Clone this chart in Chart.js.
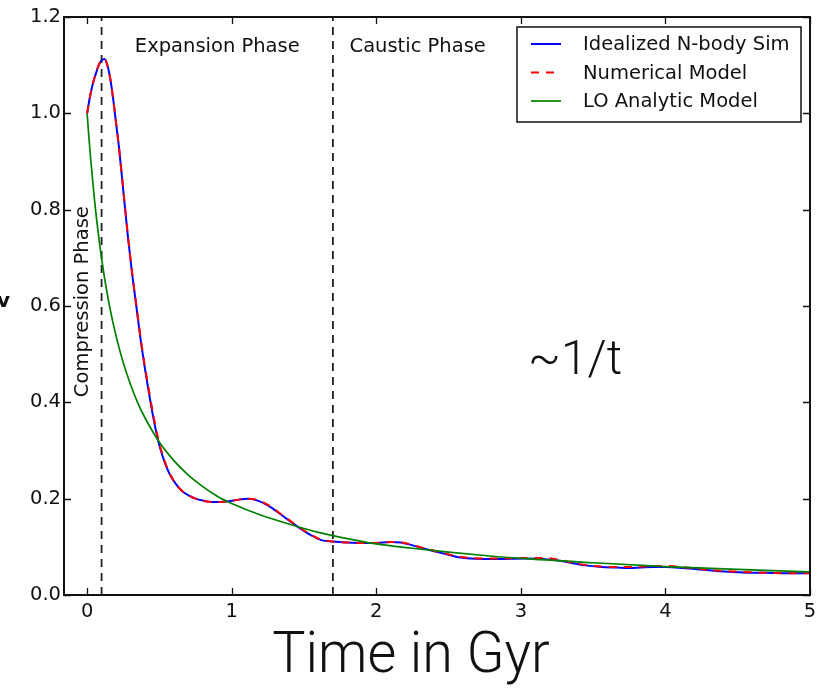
<!DOCTYPE html>
<html>
<head>
<meta charset="utf-8">
<script src="https://cdn.jsdelivr.net/npm/chart.js@4.4.1/dist/chart.umd.min.js"></script>
<style>
  html, body { margin: 0; padding: 0; background: #fff; }
  #wrap { width: 834px; height: 695px; }
</style>
</head>
<body>
<div id="wrap"><canvas id="density-chart" width="834" height="695"></canvas></div>
<script>
// ── DATA ─────────────────────────────────────────────────────
const simTimes = [0, 0.02, 0.04, 0.06, 0.08, 0.10, 0.12, 0.14, 0.16, 0.18, 0.20, 0.22, 0.25, 0.28, 0.31, 0.34, 0.37, 0.40, 0.43, 0.46, 0.49, 0.52, 0.55, 0.58, 0.62, 0.66, 0.70, 0.75, 0.80, 0.86, 0.92, 0.99, 1.05, 1.11, 1.17, 1.25, 1.35, 1.455, 1.55, 1.62, 1.70, 1.80, 1.90, 2.00, 2.10, 2.17, 2.24, 2.32, 2.40, 2.48, 2.56, 2.65, 2.74, 2.85, 3.02, 3.15, 3.27, 3.36, 3.46, 3.56, 3.66, 3.75, 3.83, 3.92, 4.01, 4.12, 4.24, 4.35, 4.47, 4.60, 4.70, 4.85, 5.00];
const simValues = [1.0, 1.035, 1.062, 1.082, 1.100, 1.110, 1.113, 1.100, 1.072, 1.030, 0.980, 0.930, 0.840, 0.750, 0.670, 0.600, 0.530, 0.470, 0.415, 0.365, 0.322, 0.290, 0.265, 0.246, 0.228, 0.215, 0.207, 0.200, 0.196, 0.193, 0.193, 0.195, 0.198, 0.200, 0.197, 0.186, 0.165, 0.142, 0.124, 0.114, 0.111, 0.109, 0.108, 0.108, 0.110, 0.109, 0.104, 0.097, 0.091, 0.085, 0.079, 0.076, 0.075, 0.075, 0.076, 0.075, 0.071, 0.066, 0.061, 0.058, 0.057, 0.056, 0.057, 0.058, 0.058, 0.056, 0.053, 0.050, 0.048, 0.046, 0.046, 0.045, 0.045];
const modelValues = [1.0, 1.035, 1.062, 1.082, 1.100, 1.110, 1.113, 1.100, 1.072, 1.030, 0.980, 0.930, 0.842, 0.752, 0.672, 0.603, 0.534, 0.474, 0.420, 0.370, 0.326, 0.293, 0.267, 0.247, 0.228, 0.215, 0.207, 0.200, 0.196, 0.193, 0.193, 0.195, 0.198, 0.200, 0.198, 0.187, 0.166, 0.143, 0.125, 0.115, 0.111, 0.109, 0.108, 0.108, 0.110, 0.109, 0.105, 0.098, 0.092, 0.086, 0.080, 0.077, 0.076, 0.076, 0.077, 0.077, 0.073, 0.067, 0.062, 0.059, 0.058, 0.058, 0.059, 0.060, 0.060, 0.058, 0.054, 0.051, 0.049, 0.047, 0.046, 0.045, 0.045];

const analyticTimes = [0, 0.01, 0.025, 0.05, 0.075, 0.10, 0.13, 0.16, 0.20, 0.25, 0.30, 0.35, 0.40, 0.50, 0.60, 0.70, 0.80, 0.90, 1.00, 1.20, 1.40, 1.60, 1.80, 2.00, 2.25, 2.50, 2.75, 3.00, 3.50, 4.00, 4.50, 5.00];
const analyticValues = [1.0, 0.959, 0.903, 0.823, 0.756, 0.699, 0.641, 0.592, 0.538, 0.482, 0.437, 0.399, 0.368, 0.317, 0.279, 0.249, 0.225, 0.205, 0.190, 0.166, 0.147, 0.130, 0.117, 0.106, 0.097, 0.089, 0.082, 0.076, 0.067, 0.059, 0.053, 0.048];

const phaseBounds = [0.1, 1.7];
const xTicks = [0, 1, 2, 3, 4, 5];
const yTicks = [0, 0.2, 0.4, 0.6, 0.8, 1.0, 1.2];

const seriesNames = ['Idealized N-body Sim', 'Numerical Model', 'LO Analytic Model'];

const toPoints = (xs, ys) => xs.map((x, i) => ({ x, y: ys[i] }));

const TICK_FONT = 'DejaVu Sans';

// ── ANNOTATIONS, FRAME, LEGEND ───────────────────────────────
const decorPlugin = {
  id: 'decor',
  afterDatasetsDraw(chart) {
    const { ctx, chartArea: a, scales: { x, y } } = chart;
    ctx.save();

    // frame and inward ticks on all four sides
    ctx.strokeStyle = '#111';
    ctx.lineWidth = 1.3;
    ctx.beginPath();
    xTicks.forEach(v => {
      const px = Math.round(x.getPixelForValue(v)) + 0.5;
      ctx.moveTo(px, a.bottom); ctx.lineTo(px, a.bottom - 7);
      ctx.moveTo(px, a.top);    ctx.lineTo(px, a.top + 7);
    });
    yTicks.forEach(v => {
      const py = Math.round(y.getPixelForValue(v)) + 0.5;
      ctx.moveTo(a.left, py);  ctx.lineTo(a.left + 7, py);
      ctx.moveTo(a.right, py); ctx.lineTo(a.right - 7, py);
    });
    ctx.stroke();
    ctx.lineWidth = 2;
    ctx.strokeRect(a.left, a.top, a.right - a.left, a.bottom - a.top);

    // phase labels
    ctx.fillStyle = '#111';
    ctx.font = `19.5px ${TICK_FONT}`;
    ctx.textBaseline = 'middle';
    ctx.textAlign = 'left';
    ctx.fillText('Expansion Phase', x.getPixelForValue(0.33), y.getPixelForValue(1.138));
    ctx.fillText('Caustic Phase', x.getPixelForValue(1.815), y.getPixelForValue(1.138));

    ctx.save();
    ctx.translate(x.getPixelForValue(-0.028), y.getPixelForValue(0.609));
    ctx.rotate(-Math.PI / 2);
    ctx.textAlign = 'center';
    ctx.fillText('Compression Phase', 0, 0);
    ctx.restore();

    ctx.font = '300 48px Roboto';
    ctx.fillText('~1/t', x.getPixelForValue(3.05), y.getPixelForValue(0.484));

    // clipped remnant of the y-axis label
    ctx.font = `bold 20px ${TICK_FONT}`;
    ctx.fillText('v', -3, 302);

    // x-axis title, slightly condensed
    ctx.save();
    ctx.translate(411, 672);
    ctx.scale(0.96, 1);
    ctx.font = '300 58px Roboto';
    ctx.textAlign = 'center';
    ctx.textBaseline = 'alphabetic';
    ctx.fillText('Time in Gyr', 0, 0);
    ctx.restore();

    // legend box
    const bx = a.right - 9, by = a.top + 10, bw = 284, bh = 95;
    const left = bx - bw;
    ctx.fillStyle = '#fff';
    ctx.fillRect(left, by, bw, bh);
    ctx.strokeStyle = '#111';
    ctx.lineWidth = 1.5;
    ctx.strokeRect(left, by, bw, bh);

    ctx.font = `19.5px ${TICK_FONT}`;
    ctx.textAlign = 'left';
    seriesNames.forEach((name, i) => {
      const ds = chart.data.datasets[i];
      const ry = by + 17 + i * 28.5;
      ctx.strokeStyle = ds.borderColor;
      ctx.lineWidth = ds.borderWidth;
      ctx.setLineDash(ds.borderDash || []);
      ctx.beginPath();
      ctx.moveTo(left + 14, ry); ctx.lineTo(left + 44, ry);
      ctx.stroke();
      ctx.setLineDash([]);
      ctx.fillStyle = '#111';
      ctx.fillText(name, left + 66, ry + 1);
    });

    ctx.restore();
  },
};

// ── CHART ────────────────────────────────────────────────────
const phaseLines = phaseBounds.map(t => ({
  label: 'phase ' + t,
  data: [{ x: t, y: 0 }, { x: t, y: 1.2 }],
  borderColor: '#222',
  borderWidth: 1.8,
  borderDash: [8, 6],
  pointRadius: 0,
  order: 3,
}));

new Chart(document.getElementById('density-chart'), {
  type: 'line',
  data: {
    datasets: [
      {
        label: seriesNames[0],
        data: toPoints(simTimes, simValues),
        borderColor: '#0000ff',
        borderWidth: 2,
        pointRadius: 0,
        cubicInterpolationMode: 'monotone',
        order: 2,
      },
      {
        label: seriesNames[1],
        data: toPoints(simTimes, modelValues),
        borderColor: '#ff0000',
        borderWidth: 2,
        borderDash: [8, 7],
        pointRadius: 0,
        cubicInterpolationMode: 'monotone',
        order: 1,
      },
      {
        label: seriesNames[2],
        data: toPoints(analyticTimes, analyticValues),
        borderColor: '#008000',
        borderWidth: 1.7,
        pointRadius: 0,
        cubicInterpolationMode: 'monotone',
        order: 0,
      },
      ...phaseLines,
    ],
  },
  options: {
    responsive: false,
    animation: false,
    layout: { padding: { top: 17, right: 24, left: 0, bottom: 0 } },
    plugins: { legend: { display: false }, tooltip: { enabled: false } },
    scales: {
      x: {
        type: 'linear',
        min: -0.16,
        max: 5,
        afterBuildTicks: (s) => { s.ticks = xTicks.map(v => ({ value: v })); },
        afterFit: (s) => { s.height = 100; },
        grid: { display: false, drawTicks: false },
        border: { display: false },
        ticks: {
          color: '#111',
          padding: 5,
          maxRotation: 0,
          font: { family: TICK_FONT, size: 19.5 },
          callback: (v) => String(v),
        },
      },
      y: {
        min: 0,
        max: 1.2,
        afterBuildTicks: (s) => { s.ticks = yTicks.map(v => ({ value: v })); },
        afterFit: (s) => { s.width = 64; },
        grid: { display: false, drawTicks: false },
        border: { display: false },
        ticks: {
          color: '#111',
          padding: 3,
          font: { family: TICK_FONT, size: 19.5 },
          callback: (v) => v.toFixed(1),
        },
      },
    },
  },
  plugins: [decorPlugin],
});
</script>
</body>
</html>
